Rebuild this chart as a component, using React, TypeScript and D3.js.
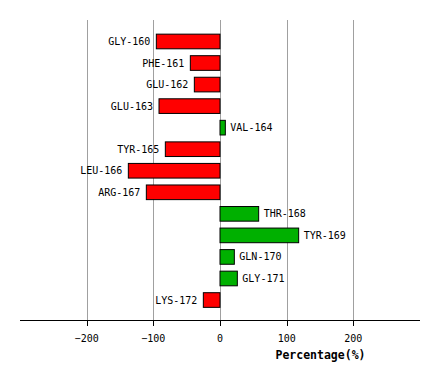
import React from "react";
import * as d3 from "d3";

const residues = ["GLY-160","PHE-161","GLU-162","GLU-163","VAL-164","TYR-165","LEU-166","ARG-167","THR-168","TYR-169","GLN-170","GLY-171","LYS-172"];
const percentages = [-95.5,-44.5,-38.5,-91.5,8,-82,-137.5,-110.5,58,118,21.5,26,-25];
const tickValues = [-200,-100,0,100,200];
const axisTitle = "Percentage(%)";

export default function App() {
  const W = 440, H = 380;
  const x = d3.scaleLinear().domain([-300, 300]).range([20, 420]);
  const y = d3.scaleBand<string>().domain(residues).range([30.7, 310.8]).paddingInner(0.32).paddingOuter(0.16);
  const font = "'DejaVu Sans Mono', monospace";
  return (
    <svg width={W} height={H} style={{ position: "absolute", left: 0, top: 0, background: "#fff" }}>
      {tickValues.map(t => (
        <line key={"g"+t} x1={Math.round(x(t))+0.5} x2={Math.round(x(t))+0.5} y1={20} y2={320} stroke="#a0a0a0" strokeWidth={1} />
      ))}
      {residues.map((r, i) => {
        const v = percentages[i];
        const x0 = x(Math.min(0, v)), x1 = x(Math.max(0, v));
        const yy = y(r)!;
        const h = y.bandwidth();
        return (
          <g key={r}>
            <rect x={x0} y={yy} width={x1 - x0} height={h} fill={v < 0 ? "#ff0000" : "#00b000"} stroke="#000" strokeWidth={1} />
            <text x={v < 0 ? x0 - 6 : x1 + 5} y={yy + h / 2} dy="0.35em" textAnchor={v < 0 ? "end" : "start"} fontFamily={font} fontSize={10} fill="#000">{r}</text>
          </g>
        );
      })}
      <line x1={20} x2={420} y1={320.5} y2={320.5} stroke="#000" strokeWidth={1} />
      {tickValues.map(t => (
        <g key={"t"+t}>
          <line x1={Math.round(x(t))+0.5} x2={Math.round(x(t))+0.5} y1={320} y2={326} stroke="#000" strokeWidth={1} />
          <text x={x(t)} y={338} dy="0.35em" textAnchor="middle" fontFamily={font} fontSize={10} fill="#000">{t === 0 ? "0" : String(t).replace("-", "\u2212")}</text>
        </g>
      ))}
      <text x={320.5} y={355} dy="0.35em" textAnchor="middle" fontFamily={font} fontSize={11.5} fontWeight="bold" fill="#000">{axisTitle}</text>
    </svg>
  );
}
